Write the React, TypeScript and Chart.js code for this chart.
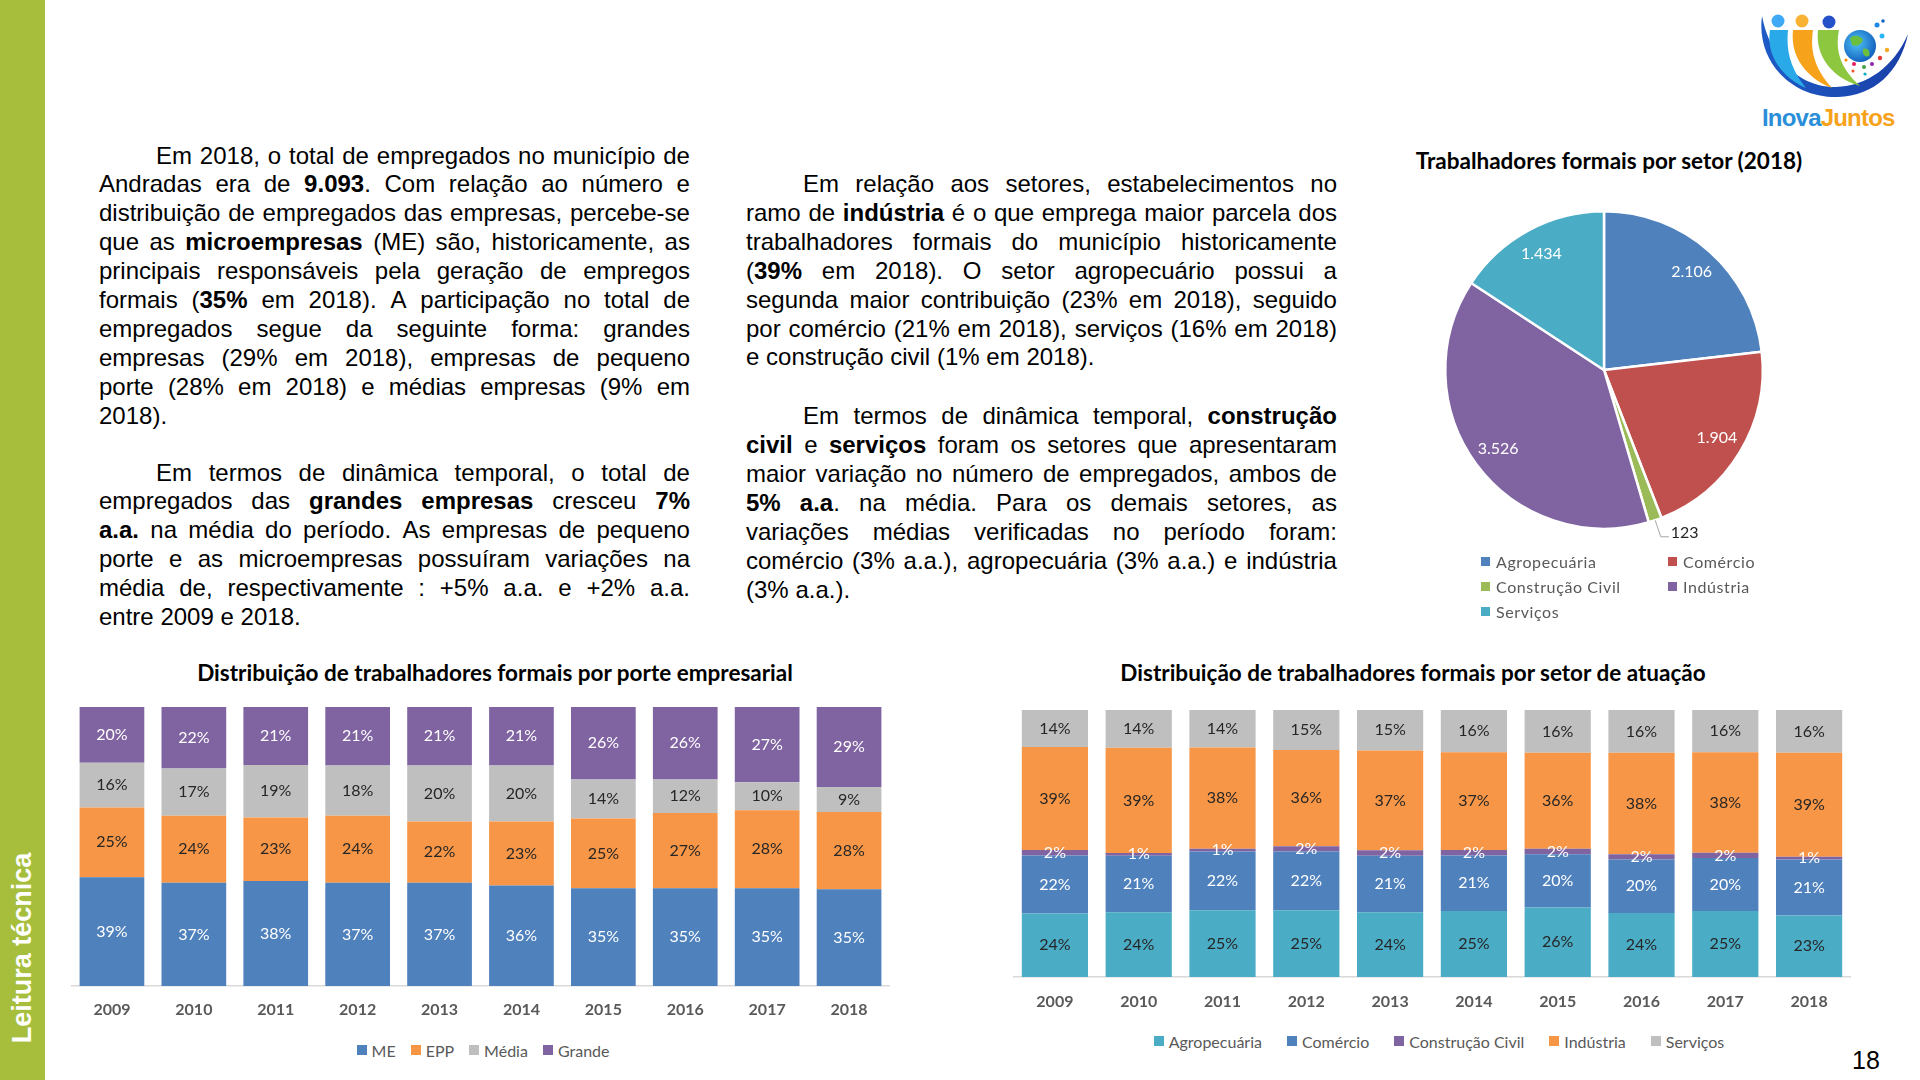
import React, { useEffect, useRef } from 'react';
import { Chart, registerables } from 'chart.js';

Chart.register(...registerables);

// ---------- DATA ----------
const YEARS = ['2009', '2010', '2011', '2012', '2013', '2014', '2015', '2016', '2017', '2018'];

const PORTE_NAMES = ['ME', 'EPP', 'Média', 'Grande'];
const PORTE_ME = [39, 37, 38, 37, 37, 36, 35, 35, 35, 35];
const PORTE_EPP = [25, 24, 23, 24, 22, 23, 25, 27, 28, 28];
const PORTE_MEDIA = [16, 17, 19, 18, 20, 20, 14, 12, 10, 9];
const PORTE_GRANDE = [20, 22, 21, 21, 21, 21, 26, 26, 27, 29];

const SETOR_NAMES = ['Agropecuária', 'Comércio', 'Construção Civil', 'Indústria', 'Serviços'];
const SETOR_AGRO = [24, 24, 25, 25, 24, 25, 26, 24, 25, 23];
const SETOR_COMERCIO = [22, 21, 22, 22, 21, 21, 20, 20, 20, 21];
const SETOR_CONSTRUCAO = [2, 1, 1, 2, 2, 2, 2, 2, 2, 1];
const SETOR_INDUSTRIA = [39, 39, 38, 36, 37, 37, 36, 38, 38, 39];
const SETOR_SERVICOS = [14, 14, 14, 15, 15, 16, 16, 16, 16, 16];

const PIE_NAMES = ['Agropecuária', 'Comércio', 'Construção Civil', 'Indústria', 'Serviços'];
const PIE_VALUES = [2106, 1904, 123, 3526, 1434];
const PIE_VALUE_LABELS = ['2.106', '1.904', '123', '3.526', '1.434'];

// ---------- STYLE ----------
const C_BLUE = '#4F81BD';
const C_ORANGE = '#F79646';
const C_GRAY = '#BFBFBF';
const C_PURPLE = '#8064A2';
const C_TEAL = '#4BACC6';
const C_RED = '#C0504D';
const C_GREEN = '#9BBB59';

const PORTE_COLORS = [C_BLUE, C_ORANGE, C_GRAY, C_PURPLE];
const PORTE_LABEL_COLORS = ['#FFFFFF', '#262626', '#262626', '#FFFFFF'];
const SETOR_COLORS = [C_TEAL, C_BLUE, C_PURPLE, C_ORANGE, C_GRAY];
const SETOR_LABEL_COLORS = ['#262626', '#FFFFFF', '#FFFFFF', '#262626', '#262626'];
const PIE_COLORS = [C_BLUE, C_RED, C_GREEN, C_PURPLE, C_TEAL];

const CHART_FONT = 'Lato';
const TEXT_FONT = '"Liberation Sans", Arial, sans-serif';

// ---------- TEXT ----------
const PARA1 = [
  'Em 2018, o total de empregados no município de',
  'Andradas era de **9.093**. Com relação ao número e',
  'distribuição de empregados das empresas, percebe-se',
  'que as **microempresas** (ME) são, historicamente, as',
  'principais responsáveis pela geração de empregos',
  'formais (**35%** em 2018). A participação no total de',
  'empregados segue da seguinte forma: grandes',
  'empresas (29% em 2018), empresas de pequeno',
  'porte (28% em 2018) e médias empresas (9% em',
  '2018).',
];
const PARA2 = [
  'Em termos de dinâmica temporal, o total de',
  'empregados das **grandes empresas** cresceu **7%**',
  '**a.a.** na média do período. As empresas de pequeno',
  'porte e as microempresas possuíram variações na',
  'média de, respectivamente : +5% a.a. e +2% a.a.',
  'entre 2009 e 2018.',
];
const PARA3 = [
  'Em relação aos setores, estabelecimentos no',
  'ramo de **indústria** é o que emprega maior parcela dos',
  'trabalhadores formais do município historicamente',
  '(**39%** em 2018). O setor agropecuário possui a',
  'segunda maior contribuição (23% em 2018), seguido',
  'por comércio (21% em 2018), serviços (16% em 2018)',
  'e construção civil (1% em 2018).',
];
const PARA4 = [
  'Em termos de dinâmica temporal, **construção**',
  '**civil** e **serviços** foram os setores que apresentaram',
  'maior variação no número de empregados, ambos de',
  '**5% a.a**. na média. Para os demais setores, as',
  'variações médias verificadas no período foram:',
  'comércio (3% a.a.), agropecuária (3% a.a.) e indústria',
  '(3% a.a.).',
];

type Seg = { t: string; b: boolean };

function parseWords(line: string): Seg[][] {
  const parts = line.split('**');
  const words: Seg[][] = [];
  let cur: Seg[] = [];
  parts.forEach((p, idx) => {
    const bold = idx % 2 === 1;
    const pieces = p.split(' ');
    pieces.forEach((piece, k) => {
      if (k > 0) {
        if (cur.length) words.push(cur);
        cur = [];
      }
      if (piece) cur.push({ t: piece, b: bold });
    });
  });
  if (cur.length) words.push(cur);
  return words;
}

const LH = 28.94;

function Paragraph({ lines, left, top, width }: { lines: string[]; left: number; top: number; width: number }) {
  return (
    <>
      {lines.map((line, i) => {
        const last = i === lines.length - 1;
        const words = parseWords(line);
        return (
          <div
            key={i}
            style={{
              position: 'absolute',
              left,
              top: top + i * LH,
              width,
              height: LH,
              boxSizing: 'border-box',
              paddingLeft: i === 0 ? 57 : 0,
              display: 'flex',
              alignItems: 'center',
              justifyContent: last ? 'flex-start' : 'space-between',
              columnGap: last ? '0.28em' : 0,
              whiteSpace: 'nowrap',
              fontFamily: TEXT_FONT,
              fontSize: 24,
              color: '#000',
              lineHeight: LH + 'px',
            }}
          >
            {words.map((w, wi) => (
              <span key={wi}>
                {w.map((s, si) => (
                  <span key={si} style={{ fontWeight: s.b ? 700 : 400 }}>
                    {s.t}
                  </span>
                ))}
              </span>
            ))}
          </div>
        );
      })}
    </>
  );
}

function Legend({ names, colors, cx, cy, gap }: { names: string[]; colors: string[]; cx: number; cy: number; gap: number }) {
  return (
    <div
      style={{
        position: 'absolute',
        left: cx - 500,
        top: cy - 12,
        width: 1000,
        height: 24,
        display: 'flex',
        justifyContent: 'center',
        alignItems: 'center',
        columnGap: gap,
        fontFamily: CHART_FONT,
        fontSize: 16,
        color: '#595959',
        whiteSpace: 'nowrap',
      }}
    >
      {names.map((n, i) => (
        <div key={i} style={{ display: 'flex', alignItems: 'center' }}>
          <span style={{ display: 'inline-block', width: 10, height: 10, background: colors[i], marginRight: 5 }} />
          <span>{n}</span>
        </div>
      ))}
    </div>
  );
}

function normalize(series: number[][]): number[][] {
  return series.map((s) =>
    s.map((v, i) => {
      const tot = series.reduce((acc, ser) => acc + ser[i], 0);
      return (v / tot) * 100;
    })
  );
}

function makeBarChart(canvas: HTMLCanvasElement, names: string[], series: number[][], colors: string[], labelColors: string[], tickPad: number) {
  const norm = normalize(series);
  const labelPlugin = {
    id: 'barLabels',
    afterDatasetsDraw(chart: any) {
      const ctx = chart.ctx;
      ctx.save();
      ctx.font = `16px ${CHART_FONT}`;
      ctx.textAlign = 'center';
      ctx.textBaseline = 'middle';
      chart.data.datasets.forEach((_ds: any, di: number) => {
        const meta = chart.getDatasetMeta(di);
        meta.data.forEach((el: any, i: number) => {
          const p = el.getProps(['x', 'y', 'base'], true);
          ctx.fillStyle = labelColors[di];
          ctx.fillText(series[di][i] + '%', p.x, (p.y + p.base) / 2);
        });
      });
      ctx.restore();
    },
  };
  return new Chart(canvas, {
    type: 'bar',
    data: {
      labels: YEARS,
      datasets: names.map((n, i) => ({
        label: n,
        data: norm[i],
        backgroundColor: colors[i],
        borderWidth: 0,
        barPercentage: 0.79,
        categoryPercentage: 1,
      })),
    },
    options: {
      responsive: true,
      maintainAspectRatio: false,
      animation: false,
      layout: { padding: { top: 10, left: 0, right: 0, bottom: 0 } },
      plugins: { legend: { display: false }, tooltip: { enabled: false }, title: { display: false } },
      scales: {
        x: {
          stacked: true,
          grid: { display: false, drawTicks: false },
          border: { display: true, color: '#D9D9D9', width: 1.5 },
          ticks: { color: '#595959', font: { family: CHART_FONT, size: 16, weight: 'bold' }, padding: tickPad },
          afterFit: (s: any) => {
            s.height = 41;
          },
        },
        y: { stacked: true, display: false, min: 0, max: 100 },
      },
    },
    plugins: [labelPlugin],
  } as any);
}

function makePie(canvas: HTMLCanvasElement) {
  const pieLabels = {
    id: 'pieLabels',
    afterDatasetsDraw(chart: any) {
      const ctx = chart.ctx;
      const meta = chart.getDatasetMeta(0);
      ctx.save();
      ctx.font = `16px ${CHART_FONT}`;
      ctx.textBaseline = 'middle';
      meta.data.forEach((el: any, i: number) => {
        const p = el.getProps(['x', 'y', 'startAngle', 'endAngle', 'outerRadius'], true);
        const mid = (p.startAngle + p.endAngle) / 2;
        const share = PIE_VALUES[i] / PIE_VALUES.reduce((a, b) => a + b, 0);
        if (share > 0.03) {
          const r = p.outerRadius * 0.83;
          ctx.fillStyle = '#FFFFFF';
          ctx.textAlign = 'center';
          ctx.fillText(PIE_VALUE_LABELS[i], p.x + Math.cos(mid) * r, p.y + Math.sin(mid) * r);
        } else {
          const ex = p.x + Math.cos(mid) * p.outerRadius;
          const ey = p.y + Math.sin(mid) * p.outerRadius;
          const lx = p.x + Math.cos(mid) * p.outerRadius * 1.11;
          const ly = p.y + Math.sin(mid) * p.outerRadius * 1.11;
          ctx.strokeStyle = '#A6A6A6';
          ctx.lineWidth = 1;
          ctx.beginPath();
          ctx.moveTo(ex, ey);
          ctx.lineTo(lx, ly);
          ctx.lineTo(lx + 8, ly);
          ctx.stroke();
          ctx.fillStyle = '#262626';
          ctx.textAlign = 'left';
          ctx.fillText(PIE_VALUE_LABELS[i], lx + 10, ly - 4);
        }
      });
      ctx.restore();
    },
  };
  return new Chart(canvas, {
    type: 'pie',
    data: {
      labels: PIE_NAMES,
      datasets: [{ data: PIE_VALUES, backgroundColor: PIE_COLORS, borderColor: '#FFFFFF', borderWidth: 2.5 }],
    },
    options: {
      responsive: true,
      maintainAspectRatio: false,
      animation: false,
      layout: { padding: 20 },
      plugins: { legend: { display: false }, tooltip: { enabled: false } },
    },
    plugins: [pieLabels],
  } as any);
}

function Logo() {
  return (
    <svg style={{ position: 'absolute', left: 1740, top: 0 }} width={180} height={140} viewBox="0 0 180 140">
      <defs>
        <linearGradient id="bowl" x1="0" y1="0" x2="1" y2="0">
          <stop offset="0" stopColor="#1E5BC6" />
          <stop offset="1" stopColor="#1A3FA8" />
        </linearGradient>
        <radialGradient id="globe" cx="0.4" cy="0.4" r="0.6">
          <stop offset="0" stopColor="#4FC3F7" />
          <stop offset="1" stopColor="#1565C0" />
        </radialGradient>
      </defs>
      <path d="M22,16 C16,60 50,98 98,97 C134,96 160,72 168,34 C154,66 128,86 96,87 C58,87 30,58 22,16 Z" fill="url(#bowl)" />
      <path d="M30,30 C26,54 40,76 66,88 C50,68 46,50 48,30 Z" fill="#29A9E8" />
      <circle cx={38} cy={21} r={6.5} fill="#3FA9F5" />
      <path d="M53,30 C50,56 66,78 92,88 C74,68 70,50 73,30 Z" fill="#F7A21B" />
      <circle cx={62} cy={21} r={6.5} fill="#F9B233" />
      <path d="M78,30 C75,56 92,78 120,86 C100,68 95,50 99,30 Z" fill="#8DC63F" />
      <circle cx={89} cy={22} r={6.5} fill="#2451C9" />
      <circle cx={120} cy={46} r={16} fill="url(#globe)" />
      <path d="M110,38 C114,34 121,36 123,40 C121,45 116,47 112,45 Z" fill="#6CBF3C" />
      <path d="M123,49 C127,47 131,51 129,56 C125,58 122,54 123,49 Z" fill="#6CBF3C" />
      <circle cx={137} cy={25} r={2.5} fill="#1E88E5" />
      <circle cx={143} cy={21} r={1.8} fill="#1565C0" />
      <circle cx={142} cy={36} r={2.5} fill="#29B6F6" />
      <circle cx={147} cy={50} r={2.2} fill="#F9A825" />
      <circle cx={140} cy={58} r={2.2} fill="#E53935" />
      <circle cx={132} cy={64} r={2} fill="#8E24AA" />
      <circle cx={124} cy={67} r={2} fill="#43A047" />
      <circle cx={114} cy={64} r={2} fill="#E91E63" />
      <circle cx={106} cy={60} r={1.6} fill="#FB8C00" />
      <circle cx={125} cy={74} r={1.6} fill="#00ACC1" />
      <circle cx={113} cy={71} r={1.5} fill="#F4511E" />
      <text x={22} y={126} fontFamily={'"Liberation Sans", Arial, sans-serif'} fontWeight={700} fontSize={24} letterSpacing={-0.8}>
        <tspan fill="#2A8FD8">Inova</tspan>
        <tspan fill="#F7A21B">Juntos</tspan>
      </text>
    </svg>
  );
}

export default function App() {
  const leftRef = useRef<HTMLCanvasElement>(null);
  const rightRef = useRef<HTMLCanvasElement>(null);
  const pieRef = useRef<HTMLCanvasElement>(null);

  useEffect(() => {
    const charts: Chart[] = [];
    if (leftRef.current)
      charts.push(
        makeBarChart(leftRef.current, PORTE_NAMES, [PORTE_ME, PORTE_EPP, PORTE_MEDIA, PORTE_GRANDE], PORTE_COLORS, PORTE_LABEL_COLORS, 14)
      );
    if (rightRef.current)
      charts.push(
        makeBarChart(
          rightRef.current,
          SETOR_NAMES,
          [SETOR_AGRO, SETOR_COMERCIO, SETOR_CONSTRUCAO, SETOR_INDUSTRIA, SETOR_SERVICOS],
          SETOR_COLORS,
          SETOR_LABEL_COLORS,
          15
        )
      );
    if (pieRef.current) charts.push(makePie(pieRef.current));
    return () => charts.forEach((c) => c.destroy());
  }, []);

  const titleStyle = (cx: number, cy: number): React.CSSProperties => ({
    position: 'absolute',
    left: cx - 400,
    top: cy - 15,
    width: 800,
    height: 30,
    lineHeight: '30px',
    textAlign: 'center',
    fontFamily: CHART_FONT,
    fontWeight: 700,
    fontSize: 22.5,
    color: '#000',
    whiteSpace: 'nowrap',
  });

  return (
    <div style={{ position: 'absolute', left: 0, top: 0, width: 1920, height: 1080, background: '#FFFFFF', overflow: 'hidden' }}>
      {/* side bar */}
      <div style={{ position: 'absolute', left: 0, top: 0, width: 45, height: 1080, background: '#A6BE3C' }} />
      <div
        style={{
          position: 'absolute',
          left: 22 - 150,
          top: 948 - 18,
          width: 300,
          height: 36,
          lineHeight: '36px',
          textAlign: 'center',
          transform: 'rotate(-90deg)',
          color: '#FFFFFF',
          fontFamily: TEXT_FONT,
          fontWeight: 700,
          fontSize: 27,
          whiteSpace: 'nowrap',
        }}
      >
        Leitura técnica
      </div>

      <Logo />

      {/* text columns */}
      <Paragraph lines={PARA1} left={99} top={156 - LH / 2} width={591} />
      <Paragraph lines={PARA2} left={99} top={473 - LH / 2} width={591} />
      <Paragraph lines={PARA3} left={746} top={184.3 - LH / 2} width={591} />
      <Paragraph lines={PARA4} left={746} top={416.4 - LH / 2} width={591} />

      {/* pie */}
      <div style={titleStyle(1609, 161)}>Trabalhadores formais por setor (2018)</div>
      <div style={{ position: 'absolute', left: 1424, top: 190, width: 360, height: 360 }}>
        <canvas ref={pieRef} />
      </div>
      <div style={{ position: 'absolute', left: 1481, top: 549, fontFamily: CHART_FONT, fontSize: 16, color: '#595959', letterSpacing: 0.6 }}>
        {PIE_NAMES.map((n, i) => (
          <div
            key={i}
            style={{
              position: 'absolute',
              left: i % 2 === 0 ? 0 : 187,
              top: Math.floor(i / 2) * 25,
              display: 'flex',
              alignItems: 'center',
              height: 24,
              whiteSpace: 'nowrap',
            }}
          >
            <span style={{ display: 'inline-block', width: 9, height: 9, background: PIE_COLORS[i], marginRight: 6 }} />
            <span>{n}</span>
          </div>
        ))}
      </div>

      {/* left bar chart */}
      <div style={titleStyle(495, 673)}>Distribuição de trabalhadores formais por porte empresarial</div>
      <div style={{ position: 'absolute', left: 71, top: 697, width: 819, height: 330 }}>
        <canvas ref={leftRef} />
      </div>
      <Legend names={PORTE_NAMES} colors={PORTE_COLORS} cx={483} cy={1050} gap={15} />

      {/* right bar chart */}
      <div style={titleStyle(1413, 673)}>Distribuição de trabalhadores formais por setor de atuação</div>
      <div style={{ position: 'absolute', left: 1013, top: 699.5, width: 838, height: 318 }}>
        <canvas ref={rightRef} />
      </div>
      <Legend names={SETOR_NAMES} colors={SETOR_COLORS} cx={1439} cy={1041} gap={25} />

      {/* page number */}
      <div
        style={{
          position: 'absolute',
          left: 1866 - 30,
          top: 1060 - 15,
          width: 60,
          height: 30,
          lineHeight: '30px',
          textAlign: 'center',
          fontFamily: TEXT_FONT,
          fontSize: 25,
          color: '#000',
        }}
      >
        18
      </div>
    </div>
  );
}
